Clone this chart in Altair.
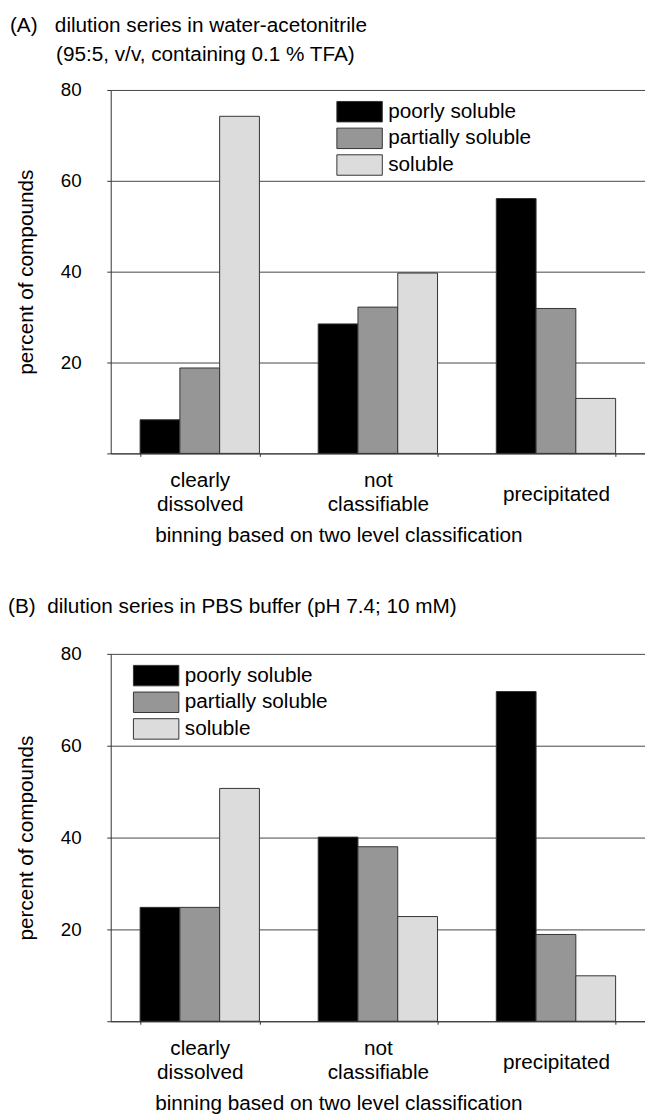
import altair as alt
import pandas as pd

FONT = "Liberation Sans"

bins = ["clearly dissolved", "not classifiable", "precipitated"]
classes = ["poorly soluble", "partially soluble", "soluble"]
colors = ["#000000", "#969696", "#dcdcdc"]

# panel A: water-acetonitrile (values per bin, in order of `bins`)
a_poorly = [7.4, 28.5, 56.1]
a_partial = [18.8, 32.2, 31.9]
a_soluble = [74.2, 39.7, 12.1]

# panel B: PBS buffer
b_poorly = [24.8, 40.1, 71.8]
b_partial = [24.8, 38.0, 18.9]
b_soluble = [50.7, 22.8, 9.9]

title_a = ["(A)\u00a0\u00a0\u00a0dilution series in water-acetonitrile",
           "\u200b" + "\u00a0" * 8 + "(95:5, v/v, containing 0.1 % TFA)"]
title_b = ["(B)\u00a0\u00a0dilution series in PBS buffer (pH 7.4; 10 mM)"]
x_title = "binning based on two level classification"
y_title = "percent of compounds"

label_expr = ("datum.value == 'precipitated' ? 'precipitated' : "
              "datum.value == 'clearly dissolved' ? ['clearly', 'dissolved'] : "
              "datum.value == 'not classifiable' ? ['not', 'classifiable'] : ''")


def make_df(poorly, partial, soluble):
    rows = []
    for series, vals in zip(classes, [poorly, partial, soluble]):
        for b, v in zip(bins, vals):
            rows.append({"bin": b, "cls": series, "pct": v})
    return pd.DataFrame(rows)


W = 541


def panel(df, title, title_offset, title_dx, height, lx, ly):
    return alt.Chart(df).mark_bar(stroke="#333333", strokeWidth=1).encode(
        x=alt.X("bin:N", sort=bins,
                scale=alt.Scale(paddingInner=0.33, paddingOuter=0.165),
                axis=alt.Axis(
                    title=x_title, labelAngle=0, labelExpr=label_expr,
                    labelBaseline="alphabetic", labelLineHeight=24.5,
                    labelPadding={"condition": {"test": "datum.value == 'precipitated'",
                                                "value": 45},
                                  "value": 30.5},
                    labelFont=FONT, labelFontSize=21, labelColor="black",
                    tickSize=3, tickBand="extent", tickColor="#333333",
                    domainColor="#333333", grid=False,
                    titleFont=FONT, titleFontSize=21, titleFontWeight="normal",
                    titleColor="black", titleX=230.5, titleY=89.5,
                    titleBaseline="alphabetic", titleAlign="center")),
        xOffset=alt.XOffset("cls:N", sort=classes,
                            scale=alt.Scale(paddingInner=0, paddingOuter=0)),
        y=alt.Y("pct:Q", scale=alt.Scale(domain=[0, 80], nice=False),
                axis=alt.Axis(
                    values=[0, 20, 40, 60, 80],
                    labelExpr="datum.value == 0 ? '' : datum.label",
                    labelFont=FONT, labelFontSize=19, labelColor="black",
                    labelPadding=26, labelFlush=False, tickSize=4, tickColor="#333333",
                    domainColor="#333333", grid=True, gridColor="#444444",
                    title=y_title, titleFont=FONT, titleFontSize=21,
                    titleFontWeight="normal", titleColor="black",
                    titleX=-85, titleY=height / 2, titleAngle=270,
                    titleBaseline="middle", titleAlign="center")),
        color=alt.Color("cls:N", sort=classes,
                        scale=alt.Scale(domain=classes, range=colors),
                        legend=alt.Legend(
                            title=None, orient="none", legendX=lx, legendY=ly,
                            symbolType="M-2,-0.9L2,-0.9L2,0.9L-2,0.9Z",
                            symbolSize=529, symbolStrokeColor="#333333",
                            symbolStrokeWidth=1, symbolOpacity=1,
                            labelFont=FONT, labelFontSize=21, labelColor="black",
                            labelOffset=17, rowPadding=1)),
    ).properties(
        width=W, height=height,
        title=alt.Title(text=title, anchor="start", frame="group", dx=title_dx,
                        font=FONT, fontSize=21, fontWeight="normal", color="black",
                        lineHeight=30, offset=title_offset),
    )


chart_a = panel(make_df(a_poorly, a_partial, a_soluble), title_a, 16, -102, 368, 240, 10)
chart_b = panel(make_df(b_poorly, b_partial, b_soluble), title_b, 28, -104, 372, 34, 10)

chart = alt.vconcat(chart_a, chart_b, spacing=51).resolve_scale(
    color="independent").resolve_legend(color="independent").properties(
    padding={"left": 0, "top": 0, "right": 0, "bottom": 0}
).configure(font=FONT).configure_view(stroke=None)

chart.save("out.html", embed_options={"renderer": "svg", "actions": False})
